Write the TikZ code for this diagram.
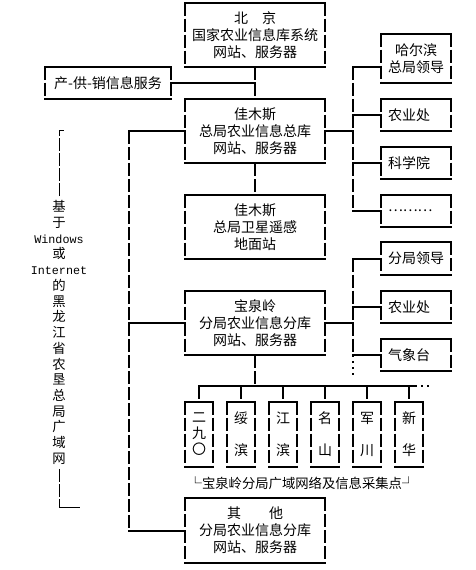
\documentclass[tikz,border=0pt]{standalone}
\usepackage{fontspec}
\newfontfamily\cn{Noto Sans CJK SC}
\newfontfamily\mono{Liberation Mono}

\tikzset{
  hline/.style={line width=1.5pt, line cap=rect},
  vline/.style={line width=1.5pt, dash pattern=on 9.75pt off 2.25pt},
  dotline/.style={line width=1.5pt, dash pattern=on 1.5pt off 3pt},
  brk/.style={line width=0.75pt, dash pattern=on 9.75pt off 1.5pt},
  frame/.style={inner sep=0pt, font=\cn\fontsize{10.5pt}{12.75pt}\selectfont,
    append after command={
      (\tikzlastnode.north west) edge[hline] (\tikzlastnode.north east)
      (\tikzlastnode.south west) edge[hline] (\tikzlastnode.south east)
      (\tikzlastnode.north west) edge[vline] (\tikzlastnode.south west)
      (\tikzlastnode.north east) edge[vline] (\tikzlastnode.south east)}},
  server/.style={frame, align=center, minimum width=105pt, minimum height=48pt},
  office/.style={frame, align=left, text width=42pt, inner xsep=5.25pt, minimum height=24pt},
  farm/.style={frame, align=center, minimum width=21pt, minimum height=48.75pt,
    font=\cn\fontsize{10.5pt}{12pt}\selectfont}
}

\begin{document}
\begin{tikzpicture}[x=0.75pt,y=-0.75pt]
\useasboundingbox (0,0) rectangle (475,570);

% servers on the main line
\node[server] (bj) at (255,35) {北　京\\国家农业信息库系统\\网站、服务器};
\node[frame, minimum width=94.5pt, minimum height=24pt] (cgx) at (108,83) {产-供-销信息服务};
\node[server] (zk) at (255,131) {佳木斯\\总局农业信息总库\\网站、服务器};
\node[server] (yg) at (255,227) {佳木斯\\总局卫星遥感\\地面站};
\node[server] (bql) at (255,323) {宝泉岭\\分局农业信息分库\\网站、服务器};
\node[server] (qt) at (255,530.5) {其　　他\\分局农业信息分库\\网站、服务器};

% offices on the right
\node[office, align=center, minimum height=36.75pt] (hrb) at (416,58.5) {哈尔滨\\总局领导};
\node[office] (nyc1) at (416,115) {农业处};
\node[office] (kxy) at (416,163) {科学院};
\node[office] (more) at (416,211) {………};
\node[office] (fjld) at (416,258.5) {分局领导};
\node[office] (nyc2) at (416,307) {农业处};
\node[office] (qxt) at (416,355) {气象台};

% farms of Baoquanling
\foreach \i/\cx/\txt in {1/199/{二\\九\\〇}, 2/241/{绥\\\phantom{绥}\\滨},
    3/283/{江\\\phantom{江}\\滨}, 4/325/{名\\\phantom{名}\\山},
    5/367/{军\\\phantom{军}\\川}, 6/409/{新\\\phantom{新}\\华}}
  \node[farm] (farm\i) at (\cx,434.5) {\txt};
\node[font=\cn\fontsize{10pt}{12pt}\selectfont, inner sep=0pt] (netlbl) at (302,483)
  {└宝泉岭分局广域网络及信息采集点┘};

% side label
\node[font=\cn\fontsize{10pt}{11.8pt}\selectfont, align=center, inner sep=3pt] (wan) at (59,332.5)
  {基\\于\\{\mono\fontsize{8.8pt}{11.8pt}\selectfont Windows}\\或\\{\mono\fontsize{8.8pt}{11.8pt}\selectfont Internet}\\的\\黑\\龙\\江\\省\\农\\垦\\总\\局\\广\\域\\网};
\coordinate (lt) at (59,131);
\coordinate (lt2) at (64,131);
\coordinate (lb) at (59,507);
\coordinate (lb2) at (80,507);
\draw[brk] (wan.north) -- (lt);
\draw[line width=0.75pt] (lt) -- (lt2);
\draw[brk] (wan.south) -- (lb);
\draw[line width=0.75pt] (lb) -- (lb2);

% main line
\draw[vline] (bj.south) -- (zk.north);
\draw[vline] (zk.south) -- (yg.north);
\draw[hline] (cgx.east) -- (cgx.east -| bj.south);

% left trunk
\coordinate (la) at (129,131);
\foreach \n in {zk,bql,qt}
  \draw[hline] (\n.west -| la) -- (\n.west);
\draw[vline] (la) -- (qt.west -| la);

% right, upper group
\coordinate (ra) at (353,67);
\draw[hline] (zk.east) -- (zk.east -| ra);
\draw[hline] (ra) -- (ra -| hrb.west);
\foreach \n in {nyc1,kxy,more}
  \draw[hline] (\n.west -| ra) -- (\n.west);
\draw[vline] (ra) -- (more.west -| ra);

% right, lower group
\coordinate (rb) at (353,258.5);
\coordinate (rc) at (353,376);
\draw[hline] (bql.east) -- (bql.east -| rb);
\foreach \n in {fjld,nyc2,qxt}
  \draw[hline] (\n.west -| rb) -- (\n.west);
\draw[vline] (fjld.west -| rb) -- (qxt.west -| rb);
\draw[dotline] (qxt.west -| rb) -- (rc);

% bus to the farms
\coordinate (bus) at (255,386);
\coordinate (busend) at (415,386);
\coordinate (busmore) at (429,386);
\draw[vline] (bql.south) -- (bus);
\draw[hline] (farm1.north |- bus) -- (busend);
\draw[dotline] (busend) -- (busmore);
\foreach \i in {1,...,6}
  \draw[vline] (farm\i.north |- bus) -- (farm\i.north);
\end{tikzpicture}
\end{document}
